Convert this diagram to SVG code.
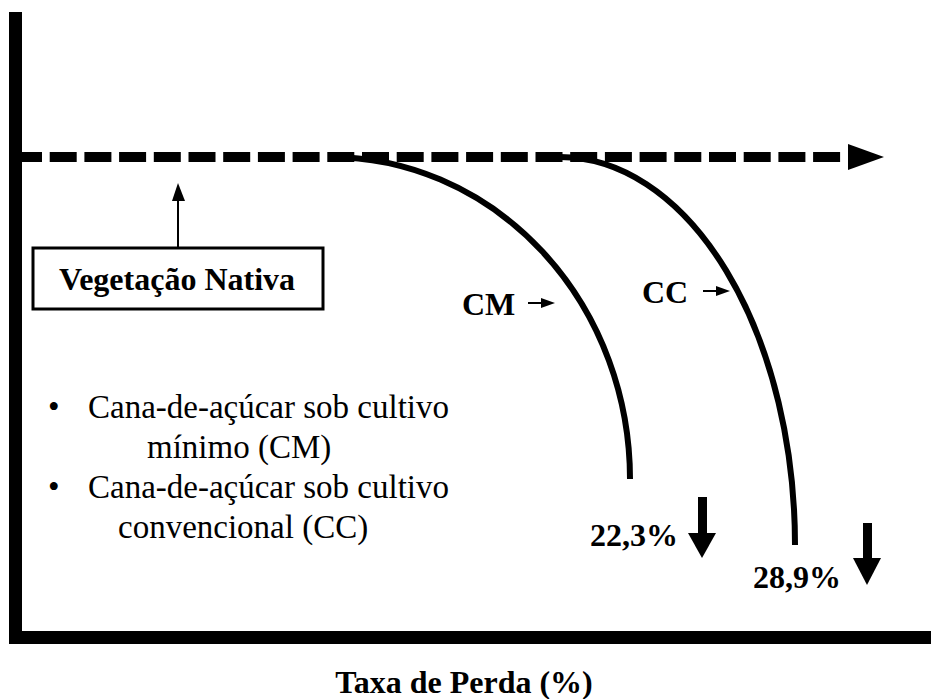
<svg xmlns="http://www.w3.org/2000/svg" width="931" height="699" viewBox="0 0 931 699">
<style>
.b{font-family:"Liberation Serif","Times New Roman",serif;font-weight:bold;font-size:32px;fill:#000}
.r{font-family:"Liberation Serif","Times New Roman",serif;font-size:33px;fill:#000}
.curve{fill:none;stroke:#000;stroke-width:6}
.thin{stroke:#000;stroke-width:2;fill:none}
</style>
<rect width="931" height="699" fill="#fff"/>
<g id="axes">
<rect x="9" y="12" width="13" height="632" fill="#000"/>
<rect x="9" y="631" width="922" height="13" fill="#000"/>
</g>
<g id="connectors">
<line x1="15" y1="157" x2="841" y2="157" stroke="#000" stroke-width="10" stroke-dasharray="27 7.7"/>
<polygon points="848,144 884,157 848,170" fill="#000"/>
<path class="curve" d="M330,157 A300,322 0 0 1 630,479"/>
<path class="curve" d="M560,157 A235,388 0 0 1 795,545"/>
<line class="thin" x1="178" y1="247" x2="178" y2="198"/>
<polygon points="172,201 178,183 185,201" fill="#000"/>
<line class="thin" x1="528" y1="303" x2="545" y2="303"/>
<polygon points="541,298 555,303 541,308" fill="#000"/>
<line class="thin" x1="703" y1="291" x2="720" y2="291"/>
<polygon points="716,286 730,291 716,296" fill="#000"/>
<rect x="698" y="497" width="9" height="37" fill="#000"/>
<polygon points="688,533 716,533 702,558" fill="#000"/>
<rect x="863" y="523" width="9" height="36" fill="#000"/>
<polygon points="853,558 881,558 867,585" fill="#000"/>
</g>
<g id="vegetacao-nativa">
<rect x="33" y="248" width="290" height="61" fill="#fff" stroke="#000" stroke-width="3"/>
<text class="b" x="177" y="290" text-anchor="middle">Vegetação Nativa</text>
</g>
<g id="label-cm"><text class="b" x="462" y="315">CM</text></g>
<g id="label-cc"><text class="b" x="642" y="303">CC</text></g>
<g id="pct-cm"><text class="b" x="590" y="546">22,3%</text></g>
<g id="pct-cc"><text class="b" x="753" y="588">28,9%</text></g>
<g id="legend">
<text class="r" x="48" y="418">•</text>
<text class="r" x="88" y="418">Cana-de-açúcar sob cultivo</text>
<text class="r" x="147" y="458">mínimo (CM)</text>
<text class="r" x="48" y="498">•</text>
<text class="r" x="88" y="498">Cana-de-açúcar sob cultivo</text>
<text class="r" x="118" y="538">convencional (CC)</text>
</g>
<g id="x-axis-title"><text class="b" x="464" y="693" text-anchor="middle">Taxa de Perda (%)</text></g>
</svg>
